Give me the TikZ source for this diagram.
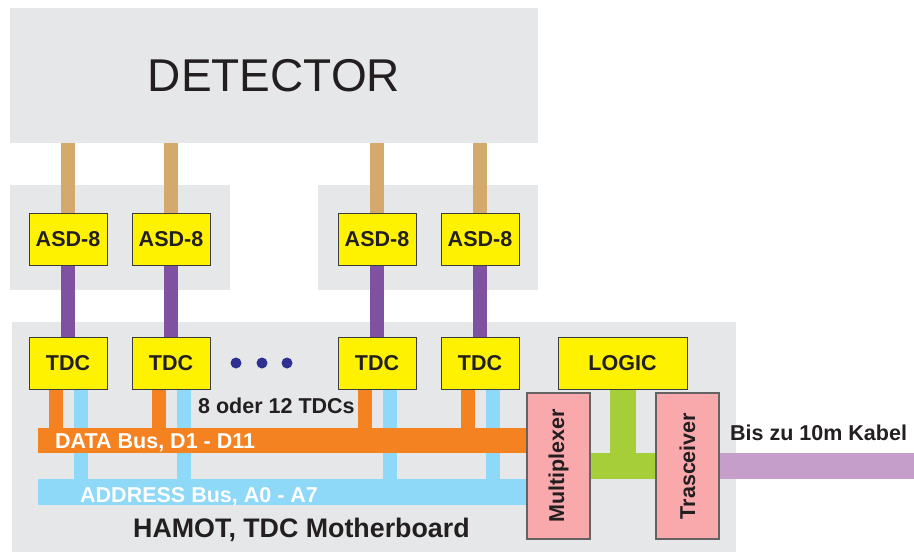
\documentclass[tikz,border=0pt]{standalone}
\usepackage{fontspec}
\setmainfont{Liberation Sans}
\usepackage{graphicx}
\usetikzlibrary{positioning}
\definecolor{boardgray}{HTML}{E6E7E8}
\definecolor{chipyellow}{HTML}{FFF200}
\definecolor{chipedge}{HTML}{3C3C3C}
\definecolor{textdark}{HTML}{231F20}
\definecolor{tanwire}{HTML}{D3AA6B}
\definecolor{violetwire}{HTML}{7F52A1}
\definecolor{dataorange}{HTML}{F58220}
\definecolor{addrblue}{HTML}{8ED8F8}
\definecolor{logicgreen}{HTML}{A6CE39}
\definecolor{muxpink}{HTML}{F9A8AB}
\definecolor{cablelilac}{HTML}{C59FCA}
\definecolor{dotblue}{HTML}{2E3192}
\tikzset{
  panel/.style={fill=boardgray, draw=none, inner sep=0pt},
  chip/.style={draw=chipedge, line width=1pt, fill=chipyellow, inner sep=0pt,
    minimum width=78pt, minimum height=52pt, text=textdark,
    font=\fontsize{21.5}{24}\selectfont\bfseries},
  pinkbox/.style={draw=chipedge!80, line width=1.2pt, fill=muxpink, inner sep=0pt,
    minimum width=63pt, minimum height=146pt, text=textdark,
    font=\fontsize{21.5}{24}\selectfont\bfseries},
  bus/.style={draw=none, inner sep=0pt, minimum width=489pt},
  buslabel/.style={inner sep=0pt, text=white, font=\fontsize{21.5}{24}\selectfont\bfseries},
  note/.style={inner sep=0pt, text=textdark, font=\fontsize{21.5}{24}\selectfont\bfseries},
  tanline/.style={draw=tanwire, line width=14pt},
  violetline/.style={draw=violetwire, line width=14pt},
  dataline/.style={draw=dataorange, line width=14pt},
  addrline/.style={draw=addrblue, line width=14pt},
  greenline/.style={draw=logicgreen, line width=26pt},
  cableline/.style={draw=cablelilac, line width=26pt}
}
\begin{document}
\begin{tikzpicture}[x=1pt, y=-1pt]
\useasboundingbox (0,0) rectangle (914,552);
% panels
\node[panel, minimum width=528pt, minimum height=135pt, text=textdark, font=\fontsize{46}{50}\selectfont] (det) at (274,75.5) {DETECTOR};
\node[panel, minimum width=220pt, minimum height=105pt] (asdleft) at (120,237.5) {};
\node[panel, minimum width=220pt, minimum height=105pt] (asdright) at (428,237.5) {};
\node[panel, minimum width=724pt, minimum height=231pt] (board) at (374,437.5) {};
% front-end chips
\node[chip] (asd1) at (68,239.5) {ASD-8};
\node[chip] (asd2) at (171,239.5) {ASD-8};
\node[chip] (asd3) at (377,239.5) {ASD-8};
\node[chip] (asd4) at (480,239.5) {ASD-8};
\node[chip] (tdc1) at (68,363) {TDC};
\node[chip] (tdc2) at (171,363) {TDC};
\node[chip] (tdc3) at (377,363) {TDC};
\node[chip] (tdc4) at (480,363) {TDC};
\node[chip, minimum width=129pt] (logic) at (622.5,363) {LOGIC};
\node[circle, fill=dotblue, minimum size=11pt, inner sep=0pt] (dot1) at (236,363) {};
\node[circle, fill=dotblue, minimum size=11pt, inner sep=0pt] (dot2) at (262,363) {};
\node[circle, fill=dotblue, minimum size=11pt, inner sep=0pt] (dot3) at (287,363) {};
% detector to ASD to TDC
\draw[tanline] (asd1.north |- det.south) -- (asd1.north);
\draw[tanline] (asd2.north |- det.south) -- (asd2.north);
\draw[tanline] (asd3.north |- det.south) -- (asd3.north);
\draw[tanline] (asd4.north |- det.south) -- (asd4.north);
\draw[violetline] (asd1.south) -- (tdc1.north);
\draw[violetline] (asd2.south) -- (tdc2.north);
\draw[violetline] (asd3.south) -- (tdc3.north);
\draw[violetline] (asd4.south) -- (tdc4.north);
% buses
\node[bus, fill=addrblue, minimum height=26pt, anchor=west] (addr) at (38,492) {};
\draw[addrline] ([xshift=12.5pt]tdc1.south) -- ([xshift=12.5pt]tdc1.south |- addr.center);
\draw[addrline] ([xshift=12.5pt]tdc2.south) -- ([xshift=12.5pt]tdc2.south |- addr.center);
\draw[addrline] ([xshift=12.5pt]tdc3.south) -- ([xshift=12.5pt]tdc3.south |- addr.center);
\draw[addrline] ([xshift=12.5pt]tdc4.south) -- ([xshift=12.5pt]tdc4.south |- addr.center);
\node[bus, fill=dataorange, minimum height=25pt, anchor=west] (data) at (38,440.5) {};
\draw[dataline] ([xshift=-12.5pt]tdc1.south) -- ([xshift=-12.5pt]tdc1.south |- data.center);
\draw[dataline] ([xshift=-12.5pt]tdc2.south) -- ([xshift=-12.5pt]tdc2.south |- data.center);
\draw[dataline] ([xshift=-12.5pt]tdc3.south) -- ([xshift=-12.5pt]tdc3.south |- data.center);
\draw[dataline] ([xshift=-12.5pt]tdc4.south) -- ([xshift=-12.5pt]tdc4.south |- data.center);
\node[buslabel, anchor=base west] (datatext) at (55,448.5) {DATA Bus, D1 - D11};
\node[buslabel, anchor=base west] (addrtext) at (80,502) {ADDRESS Bus, A0 - A7};
% multiplexer and transceiver
\node[pinkbox] (mux) at (558.5,466) {\rotatebox{90}{Multiplexer}};
\node[pinkbox] (tras) at (687.5,466) {\rotatebox{90}{Trasceiver}};
\coordinate (cableend) at (914,466);
\draw[greenline] (logic.south) -- (logic.south |- mux.center);
\draw[greenline] (mux.east) -- (tras.west);
\draw[cableline] (tras.east) -- (cableend);
% notes
\node[note, anchor=west] (count) at (198,406) {8 oder 12 TDCs};
\node[note, anchor=west, font=\fontsize{26.8}{30}\selectfont\bfseries] (boardname) at (133,530) {HAMOT, TDC Motherboard};
\node[note, anchor=west] (cable) at (730,433) {Bis zu 10m Kabel};
\end{tikzpicture}
\end{document}
